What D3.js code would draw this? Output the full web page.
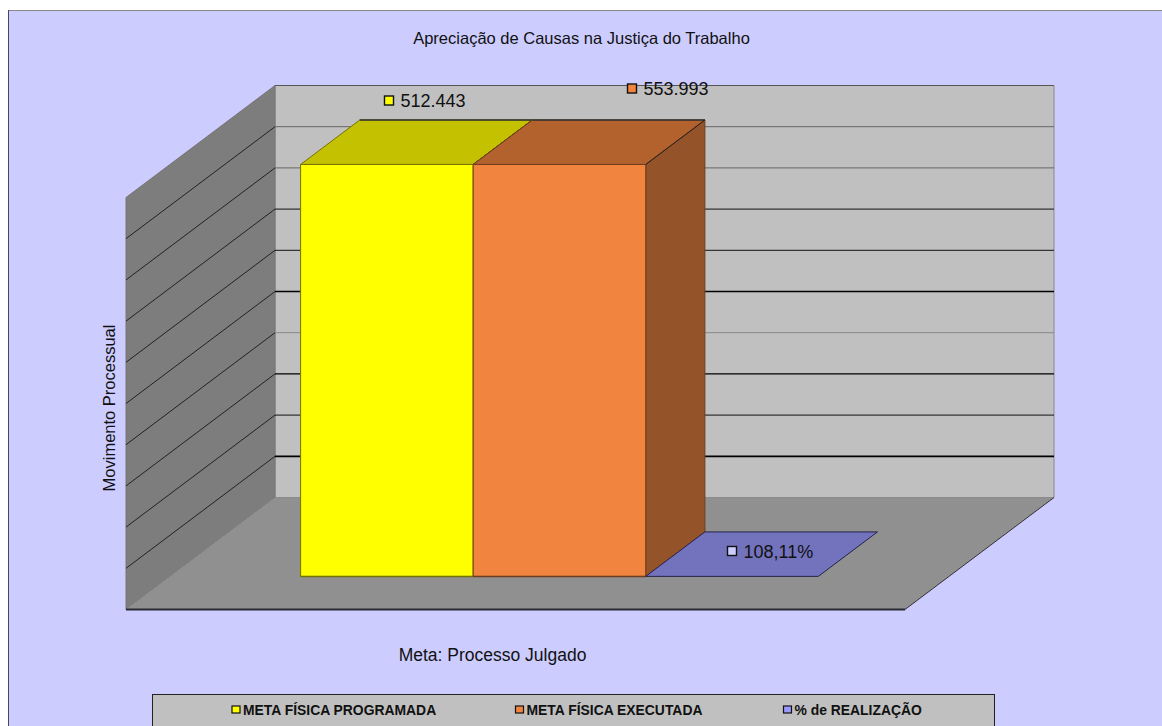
<!DOCTYPE html>
<html>
<head>
<meta charset="utf-8">
<script src="https://d3js.org/d3.v7.min.js"></script>
<style>
html, body { margin: 0; padding: 0; background: #fff; overflow: hidden; }
text { font-family: "Liberation Sans", Arial, sans-serif; fill: #111; }
</style>
</head>
<body>
<div id="chart"></div>
<script>
const width = 1162;
const height = 726;

const seriesNames = ["META FÍSICA PROGRAMADA", "META FÍSICA EXECUTADA", "% de REALIZAÇÃO"];
const seriesValues = [512443, 553993, 108.11];
const valueLabels = ["512.443", "553.993", "108,11%"];
const faceColors = ["#ffff00", "#f1853f", "#7373bd"];
const topColors = ["#c4c100", "#b3622e", "#7373bd"];
const sideColors = ["#949400", "#95532a", "#7373bd"];
const swatchColors = ["#ffff00", "#f1853f", "#9999ff"];
const gridTicks = [0, 50000, 100000, 150000, 200000, 250000, 300000, 350000, 400000, 450000, 500000];
// back wall lines came out uneven in the source image, bottom to top
const backGridColors = ["#000", "#111", "#000", "#888", "#000", "#111", "#111", "#666", "#666"];
const backGridWidths = [1.8, 1, 1.4, 1, 1.4, 1, 1, 1, 1];

// the box of the fake 3d plot
const front = { left: 126, right: 905, bottom: 609.5 };
const depth = { dx: 149, dy: 112 };
const plotHeight = 412;
const barZ = [0.295, 0.692];

const x = d3.scaleBand().domain(seriesNames).range([0, front.right - front.left]).paddingInner(0).paddingOuter(0.757);
// axis stops below the bars, so the two big ones are cut off at the top
const y = d3.scaleLinear().domain([0, 500000]).range([0, plotHeight]).clamp(true);

// x along the front, h up, z into the back wall (0..1)
function project(px, h, z) {
    return [front.left + px + z * depth.dx, front.bottom - h - z * depth.dy];
}
const line = d3.line();
function face(points) {
    return line(points.map(p => project(p[0], p[1], p[2]))) + "Z";
}

const svg = d3.select("#chart").append("svg").attr("width", width).attr("height", height).style("display", "block");

svg.append("rect").attr("x", 8.5).attr("y", 10.5).attr("width", width).attr("height", height)
    .attr("fill", "#ccccff").attr("stroke", "#888");
svg.append("line").attr("x1", 8.5).attr("x2", 8.5).attr("y1", 10).attr("y2", height).attr("stroke", "#444466");

const w = front.right - front.left;

// walls and floor
svg.append("path").attr("d", face([[0, 0, 1], [w, 0, 1], [w, plotHeight, 1], [0, plotHeight, 1]]))
    .attr("fill", "#c0c0c0").attr("stroke", "#888");
svg.append("path").attr("d", line([project(0, plotHeight, 1), project(w, plotHeight, 1)])).attr("stroke", "#555");
svg.append("path").attr("d", face([[0, 0, 0], [0, 0, 1], [0, plotHeight, 1], [0, plotHeight, 0]]))
    .attr("fill", "#7d7d7d").attr("stroke", "#777");
svg.append("path").attr("d", face([[0, 0, 0], [w, 0, 0], [w, 0, 1], [0, 0, 1]]))
    .attr("fill", "#909090").attr("stroke", "none");
svg.append("path").attr("d", line([project(0, 0, 0), project(w, 0, 0)])).attr("stroke", "#2b2b33").attr("stroke-width", 1.8);
svg.append("path").attr("d", line([project(w, 0, 0), project(w, 0, 1)])).attr("stroke", "#333").attr("stroke-width", 1);

// gridlines run along the side wall and across the back wall
gridTicks.slice(1, -1).forEach((t, i) => {
    const h = y(t);
    svg.append("path").attr("fill", "none").attr("stroke", "#222").attr("stroke-width", 1)
        .attr("d", line([project(0, h, 0), project(0, h, 1)]));
    svg.append("path").attr("fill", "none").attr("stroke", backGridColors[i]).attr("stroke-width", backGridWidths[i])
        .attr("d", line([project(0, h, 1), project(w, h, 1)]));
});

// bars
const bars = svg.selectAll("g.bar").data(seriesNames).enter().append("g").attr("class", "bar");
bars.each(function (name, i) {
    const g = d3.select(this);
    const x0 = x(name);
    const x1 = x0 + x.bandwidth();
    const h = y(seriesValues[i]);
    const stroke = d3.color(faceColors[i]).darker(2.2).formatHex();
    if (h > 1) {
        g.append("path").attr("d", face([[x1, 0, barZ[0]], [x1, 0, barZ[1]], [x1, h, barZ[1]], [x1, h, barZ[0]]]))
            .attr("fill", sideColors[i]).attr("stroke", stroke);
        g.append("path").attr("d", face([[x0, h, barZ[0]], [x1, h, barZ[0]], [x1, h, barZ[1]], [x0, h, barZ[1]]]))
            .attr("fill", topColors[i]).attr("stroke", stroke);
        g.append("path").attr("d", face([[x0, 0, barZ[0]], [x1, 0, barZ[0]], [x1, h, barZ[0]], [x0, h, barZ[0]]]))
            .attr("fill", faceColors[i]).attr("stroke", stroke);
        // heavier edges at the back of the top and along the foot
        g.append("path").attr("d", line([project(x0, h, barZ[1]), project(x1, h, barZ[1])])).attr("stroke", "#333").attr("stroke-width", 1.6);
        g.append("path").attr("d", line([project(x0, 0, barZ[0]), project(x1, 0, barZ[0])])).attr("stroke", stroke).attr("stroke-width", 1.6);
        g.append("path").attr("d", line([project(x1, h, barZ[0]), project(x1, h, barZ[1])])).attr("stroke", "#222").attr("stroke-width", 1);
    } else {
        g.append("path").attr("d", face([[x0, h, barZ[0]], [x1, h, barZ[0]], [x1, h, barZ[1]], [x0, h, barZ[1]]]))
            .attr("fill", topColors[i]).attr("stroke", "#22224a");
    }
});

// data labels: small marker + value
const labelAnchors = [[389, 100.5], [632, 88.5], [732, 551]];
const labelSwatch = ["#ffff00", "#f1853f", "#ccccff"];
valueLabels.forEach((label, i) => {
    const [lx, ly] = labelAnchors[i];
    svg.append("rect").attr("x", lx - 4.5).attr("y", ly - 4.5).attr("width", 9).attr("height", 9)
        .attr("fill", labelSwatch[i]).attr("stroke", "#111").attr("stroke-width", 1.4);
    svg.append("text").attr("x", lx + 11.5).attr("y", ly + 6.5).attr("font-size", 18).text(label);
});

// titles
svg.append("text").attr("x", 581.5).attr("y", 44).attr("text-anchor", "middle").attr("font-size", 16.5)
    .text("Apreciação de Causas na Justiça do Trabalho");
svg.append("text").attr("x", 492.5).attr("y", 661).attr("text-anchor", "middle").attr("font-size", 17.5)
    .text("Meta: Processo Julgado");
svg.append("text").attr("transform", "translate(115,408) rotate(-90)").attr("text-anchor", "middle").attr("font-size", 16.5)
    .text("Movimento Processual");

// legend
svg.append("rect").attr("x", 152.5).attr("y", 694.5).attr("width", 842).attr("height", 40)
    .attr("fill", "#c0c0c0").attr("stroke", "#222");
const legendX = [236, 519.5, 787.5];
seriesNames.forEach((name, i) => {
    svg.append("rect").attr("x", legendX[i] - 4).attr("y", 706).attr("width", 8).attr("height", 7)
        .attr("fill", swatchColors[i]).attr("stroke", "#111").attr("stroke-width", 1.2);
    svg.append("text").attr("x", legendX[i] + 7).attr("y", 715).attr("font-size", 13.9).attr("font-weight", "bold").text(name);
});
</script>
</body>
</html>
